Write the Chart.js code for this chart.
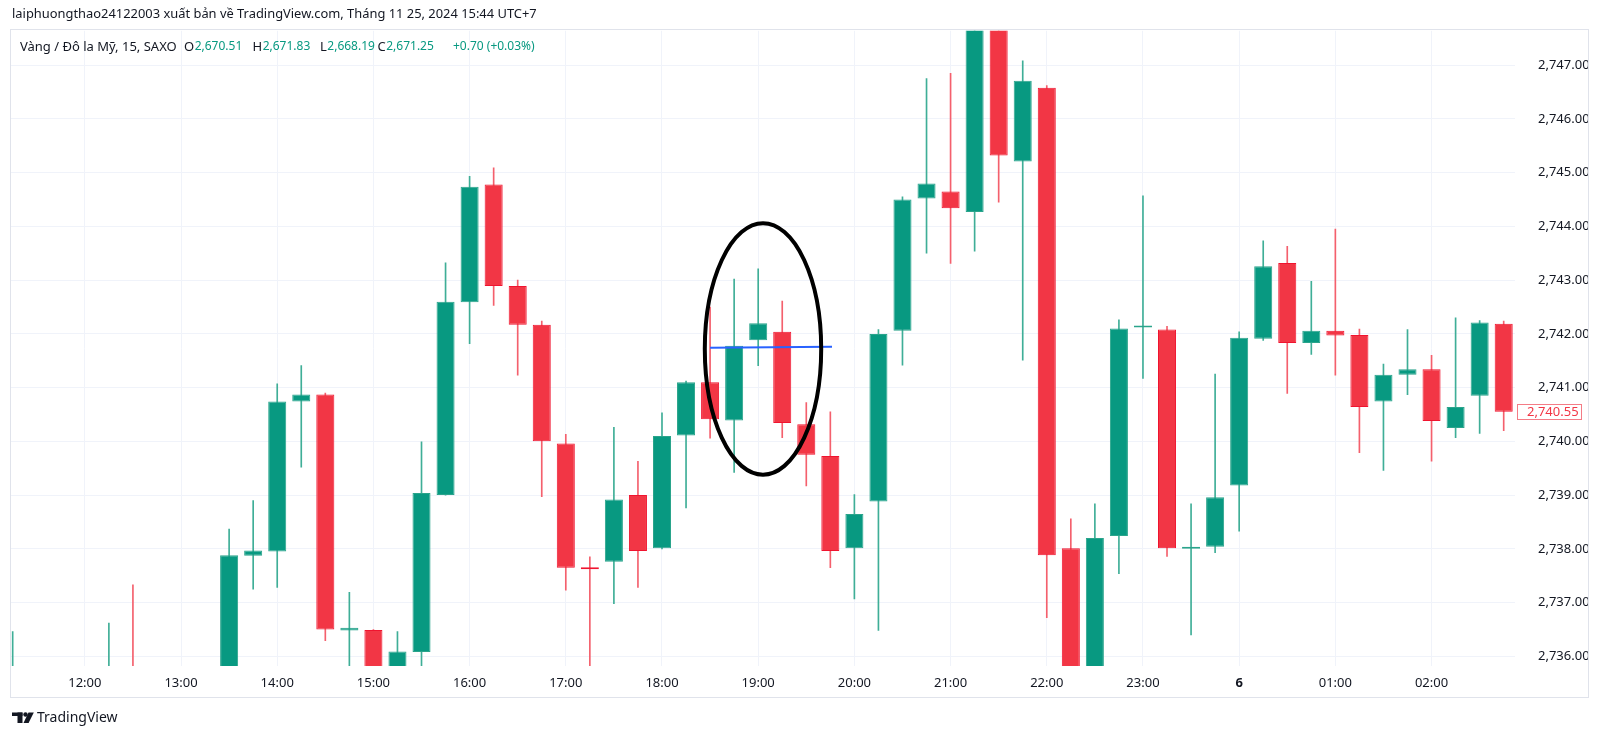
<!DOCTYPE html>
<html>
<head>
<meta charset="utf-8">
<script src="https://cdn.jsdelivr.net/npm/chart.js@4.4.1/dist/chart.umd.min.js"></script>
<style>
  html, body { margin: 0; padding: 0; background: #fff; }
</style>
</head>
<body>
<canvas id="goldChart" width="1600" height="737"></canvas>
<script>
// 15 minute candles, XAU/USD (SAXO), 25 Nov 2024 11:15 -> 26 Nov 02:45 (UTC+7)
const times = ['11:15','11:30','11:45','12:00','12:15','12:30','12:45','13:00','13:15','13:30','13:45',
  '14:00','14:15','14:30','14:45','15:00','15:15','15:30','15:45','16:00','16:15','16:30','16:45',
  '17:00','17:15','17:30','17:45','18:00','18:15','18:30','18:45','19:00','19:15','19:30','19:45',
  '20:00','20:15','20:30','20:45','21:00','21:15','21:30','21:45','22:00','22:15','22:30','22:45',
  '23:00','23:15','23:30','23:45','00:00','00:15','00:30','00:45','01:00','01:15','01:30','01:45',
  '02:00','02:15','02:30','02:45'];

const opens = [2734.9, 2735.3, 2735.0, 2735.4, 2735.2, 2735.6, 2735.1, 2735.3, 2735.0, 2735.5, 2737.87,
  2737.95, 2740.74, 2740.87, 2736.48, 2736.49, 2735.5, 2736.08, 2739.0, 2742.59, 2744.78, 2742.89, 2742.17,
  2739.96, 2737.65, 2737.76, 2739.0, 2738.01, 2740.11, 2741.1, 2740.39, 2741.88, 2742.04, 2740.32, 2739.73,
  2738.01, 2738.88, 2742.06, 2744.52, 2744.65, 2744.27, 2748.1, 2745.21, 2746.58, 2738.01, 2735.5, 2738.24,
  2742.12, 2742.08, 2738.0, 2738.04, 2739.18, 2741.91, 2743.32, 2741.83, 2742.06, 2741.98, 2740.74, 2741.24,
  2741.34, 2740.25, 2740.85, 2742.19];

const highs = [2736.46, 2735.6, 2735.7, 2735.7, 2736.62, 2737.33, 2735.7, 2735.6, 2735.7, 2738.37, 2738.9,
  2741.07, 2741.41, 2740.9, 2737.19, 2736.5, 2736.46, 2739.99, 2743.32, 2744.93, 2745.09, 2743.0, 2742.24,
  2740.13, 2737.85, 2740.26, 2739.63, 2740.53, 2741.12, 2742.5, 2743.02, 2743.21, 2742.61, 2740.72, 2740.55,
  2739.01, 2742.08, 2744.55, 2746.75, 2746.85, 2748.4, 2748.5, 2747.08, 2746.62, 2738.56, 2738.84, 2742.26,
  2744.57, 2742.14, 2738.84, 2741.25, 2742.04, 2743.73, 2743.63, 2742.98, 2743.95, 2742.09, 2741.44, 2742.08,
  2741.6, 2742.3, 2742.25, 2742.24];

const lows = [2734.4, 2734.7, 2734.8, 2734.9, 2735.0, 2734.9, 2734.8, 2734.6, 2734.8, 2735.3, 2737.25,
  2737.28, 2739.52, 2736.29, 2735.5, 2735.3, 2735.4, 2735.6, 2739.0, 2741.82, 2742.53, 2741.23, 2738.97,
  2737.23, 2735.7, 2736.98, 2737.28, 2738.0, 2738.76, 2740.06, 2739.42, 2741.41, 2740.07, 2739.17, 2737.65,
  2737.07, 2736.48, 2741.42, 2743.5, 2743.31, 2743.54, 2744.45, 2741.51, 2736.72, 2735.2, 2735.3, 2737.54,
  2741.17, 2737.86, 2736.4, 2737.93, 2738.33, 2741.88, 2740.89, 2741.62, 2741.23, 2739.79, 2739.46, 2740.87,
  2739.63, 2740.07, 2740.15, 2740.2];

const closes = [2735.3, 2735.0, 2735.4, 2735.2, 2735.6, 2735.1, 2735.3, 2735.0, 2735.5, 2737.88, 2737.97,
  2740.74, 2740.87, 2736.5, 2736.53, 2735.5, 2736.09, 2739.04, 2742.6, 2744.74, 2742.89, 2742.17, 2740.0,
  2737.65, 2737.62, 2738.92, 2737.96, 2740.1, 2741.1, 2740.41, 2741.78, 2742.2, 2740.34, 2739.75, 2737.96,
  2738.65, 2742.0, 2744.5, 2744.8, 2744.34, 2748.1, 2745.32, 2746.71, 2737.88, 2735.5, 2738.2, 2742.1,
  2742.14, 2738.01, 2738.02, 2738.96, 2741.93, 2743.26, 2741.83, 2742.06, 2741.97, 2740.64, 2741.24, 2741.34,
  2740.38, 2740.64, 2742.21, 2740.55];

// time axis: candle times that get a label, and the label text shown
const xTickTimes = ['12:00','13:00','14:00','15:00','16:00','17:00','18:00','19:00','20:00','21:00','22:00','23:00','00:00','01:00','02:00'];
const xTickLabels = ['12:00','13:00','14:00','15:00','16:00','17:00','18:00','19:00','20:00','21:00','22:00','23:00','6','01:00','02:00'];
const priceTicks = [2736, 2737, 2738, 2739, 2740, 2741, 2742, 2743, 2744, 2745, 2746, 2747];
const lastPrice = 2740.55;

// drawings on the chart (in candle index / price units)
const ring = { xMin: 28.78, xMax: 33.62, yMin: 2739.38, yMax: 2744.06 };
const levelLine = { x0: 29.0, y0: 2741.74, x1: 34.07, y1: 2741.76 };

const headerText = 'laiphuongthao24122003 xuất bản về TradingView.com, Tháng 11 25, 2024 15:44 UTC+7';
const symbolName = 'Vàng / Đô la Mỹ, 15, SAXO';
const ohlcLetters = ['O', 'H', 'L', 'C'];
const ohlcValues = ['2,670.51', '2,671.83', '2,668.19', '2,671.25'];
const changeText = '+0.70 (+0.03%)';

const UP = '#089981';
const DOWN = '#f23645';
const TEXT = '#131722';
const FONT = '"Noto Sans", Roboto, sans-serif';

const isUp = times.map((t, i) => closes[i] >= opens[i]);
const fmtPrice = v => v.toLocaleString('en-US', { minimumFractionDigits: 2, maximumFractionDigits: 2 });

const decor = {
  id: 'decor',
  afterDatasetsDraw(chart) {
    const { ctx, scales: { x, y } } = chart;
    ctx.save();
    ctx.strokeStyle = '#2962ff';
    ctx.lineWidth = 2;
    ctx.beginPath();
    ctx.moveTo(x.getPixelForValue(levelLine.x0), y.getPixelForValue(levelLine.y0));
    ctx.lineTo(x.getPixelForValue(levelLine.x1), y.getPixelForValue(levelLine.y1));
    ctx.stroke();

    const x0 = x.getPixelForValue(ring.xMin), x1 = x.getPixelForValue(ring.xMax);
    const y0 = y.getPixelForValue(ring.yMax), y1 = y.getPixelForValue(ring.yMin);
    ctx.strokeStyle = '#000';
    ctx.lineWidth = 4;
    ctx.beginPath();
    ctx.ellipse((x0 + x1) / 2, (y0 + y1) / 2, (x1 - x0) / 2, (y1 - y0) / 2, 0, 0, Math.PI * 2);
    ctx.stroke();
    ctx.restore();
  },
  afterDraw(chart) {
    const { ctx, scales: { y } } = chart;
    ctx.save();
    // pane border
    ctx.strokeStyle = '#e0e3eb';
    ctx.lineWidth = 1;
    ctx.strokeRect(10.5, 29.5, 1578, 668);

    ctx.textBaseline = 'middle';
    ctx.textAlign = 'left';
    ctx.font = '12.9px ' + FONT;
    ctx.fillStyle = TEXT;
    ctx.fillText(headerText, 12, 14);

    // symbol legend row
    ctx.font = '13px ' + FONT;
    ctx.fillText(symbolName, 20, 47);
    const slots = [184, 252.5, 320, 377.5];
    ohlcLetters.forEach((l, i) => {
      ctx.font = '13px ' + FONT;
      ctx.fillStyle = TEXT;
      ctx.fillText(l, slots[i], 47);
      const w = ctx.measureText(l).width;
      ctx.font = '12px ' + FONT;
      ctx.fillStyle = UP;
      ctx.fillText(ohlcValues[i], slots[i] + w + 0.5, 47);
    });
    ctx.fillText(changeText, 453, 47);

    // last price tag
    const py = Math.round(y.getPixelForValue(lastPrice));
    ctx.font = '13px ' + FONT;
    ctx.fillStyle = '#fff';
    ctx.fillRect(1517.5, py - 7.5, 64, 15);
    ctx.strokeStyle = '#f47c86';
    ctx.strokeRect(1517.5, py - 7.5, 64, 15);
    ctx.fillStyle = DOWN;
    ctx.fillText(fmtPrice(lastPrice), 1527, py + 0.5);

    // TradingView mark
    ctx.fillStyle = TEXT;
    ctx.fillRect(12, 712.5, 10.5, 3.5);
    ctx.fillRect(17.5, 712.5, 5, 10.5);
    ctx.beginPath();
    ctx.arc(25.5, 714.5, 2.2, 0, Math.PI * 2);
    ctx.fill();
    ctx.beginPath();
    ctx.moveTo(28.5, 712.5);
    ctx.lineTo(33.8, 712.5);
    ctx.lineTo(28.6, 723);
    ctx.lineTo(23.5, 723);
    ctx.closePath();
    ctx.fill();
    ctx.font = '14px ' + FONT;
    ctx.fillText('TradingView', 37, 718);
    ctx.restore();
  }
};

const chartEl = document.getElementById('goldChart');
const goldChart = new Chart(chartEl.getContext('2d'), {
  type: 'bar',
  data: {
    datasets: [{
      label: 'wick',
      data: times.map((t, i) => ({ x: i, y: [lows[i], highs[i]] })),
      backgroundColor: isUp.map(u => u ? '#3fae97' : '#f4606d'),
      barThickness: 1,
      grouped: false,
      clip: 0,
      order: 1
    }, {
      label: 'body',
      data: times.map((t, i) => ({ x: i, y: [opens[i], closes[i]] })),
      backgroundColor: isUp.map(u => u ? UP : DOWN),
      borderColor: isUp.map(u => u ? '#2aa48b' : '#f0142f'),
      borderWidth: 1,
      borderSkipped: false,
      barPercentage: 0.75,
      categoryPercentage: 1,
      minBarLength: 2,
      grouped: false,
      clip: 0,
      order: 0
    }]
  },
  options: {
    responsive: false,
    animation: false,
    events: [],
    layout: { padding: { left: 11, top: 30, right: 12, bottom: 40 } },
    plugins: {
      legend: { display: false },
      tooltip: { enabled: false }
    },
    scales: {
      x: {
        type: 'linear',
        position: 'bottom',
        min: -0.07,
        max: 62.47,
        offset: false,
        afterFit: s => { s.height = 31; },
        afterBuildTicks: s => { s.ticks = xTickTimes.map(t => ({ value: times.indexOf(t) })); },
        grid: { color: '#f0f3fa', drawTicks: false, offset: false },
        border: { display: false },
        ticks: {
          autoSkip: false,
          maxRotation: 0,
          padding: 9,
          color: TEXT,
          font: ctx => ({ family: FONT, size: 13, weight: ctx.tick && ctx.tick.label === '6' ? 'bold' : 'normal' }),
          callback: v => xTickLabels[xTickTimes.indexOf(times[v])]
        }
      },
      y: {
        position: 'right',
        min: 2735.82,
        max: 2747.64,
        afterFit: s => { s.width = 73; },
        afterBuildTicks: s => { s.ticks = priceTicks.map(v => ({ value: v })); },
        grid: { color: '#f0f3fa', drawTicks: false },
        border: { display: false },
        ticks: {
          padding: 23,
          color: TEXT,
          font: { family: FONT, size: 13 },
          callback: v => fmtPrice(v)
        }
      }
    }
  },
  plugins: [decor]
});
</script>
</body>
</html>
